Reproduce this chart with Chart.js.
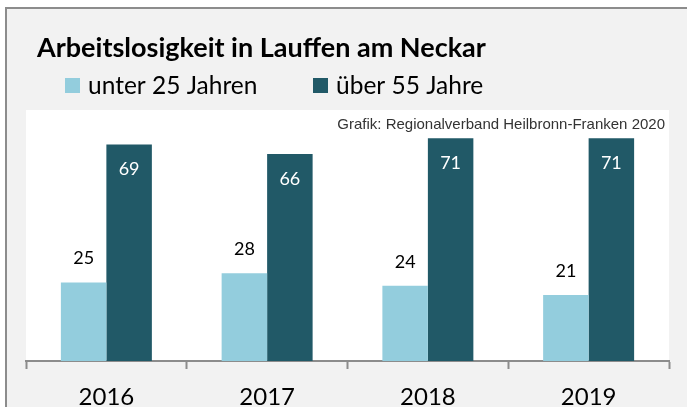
<!DOCTYPE html>
<html>
<head>
<meta charset="utf-8">
<script src="https://cdn.jsdelivr.net/npm/chart.js@4"></script>
<style>
  html, body { margin: 0; padding: 0; background: #fff; }
  #wrap { width: 687px; height: 407px; }
</style>
</head>
<body>
<div id="wrap"><canvas id="chart" width="687" height="407"></canvas></div>
<script>
// values
var years = ["2016", "2017", "2018", "2019"];
var unter25 = [25, 28, 24, 21];
var ueber55 = [69, 66, 71, 71];
var seriesNames = ["unter 25 Jahren", "über 55 Jahre"];
var titleText = "Arbeitslosigkeit in Lauffen am Neckar";
var sourceText = "Grafik: Regionalverband Heilbronn-Franken 2020";

var lightBlue = "#93cddd";
var darkTeal = "#215967";

// gray frame, white plot area, title, legend and source line
var framePlugin = {
    id: "frame",
    beforeDraw: function (chart) {
        var c = chart.ctx;
        var a = chart.chartArea;
        c.save();
        c.fillStyle = "#ffffff";
        c.fillRect(0, 0, chart.width, chart.height);
        c.fillStyle = "#f2f2f2";
        c.fillRect(5, 7, chart.width, chart.height);
        c.strokeStyle = "#8c8c8c";
        c.lineWidth = 2;
        c.beginPath();
        c.moveTo(6, chart.height + 2);
        c.lineTo(6, 8);
        c.lineTo(chart.width + 2, 8);
        c.stroke();
        c.fillStyle = "#ffffff";
        c.fillRect(a.left, 110, a.right - a.left, a.bottom - 110);

        // title
        c.fillStyle = "#000000";
        c.textBaseline = "alphabetic";
        c.textAlign = "left";
        c.font = "bold 27px Lato";
        c.fillText(titleText, 37, 57);

        // legend
        c.font = "24.5px Lato";
        var lx = [65, 313];
        var cols = [lightBlue, darkTeal];
        for (var i = 0; i < 2; i++) {
            c.fillStyle = cols[i];
            c.fillRect(lx[i], 78, 15, 15);
            c.fillStyle = "#000000";
            c.fillText(seriesNames[i], lx[i] + 23, 94);
        }

        // source
        c.font = "15px 'Liberation Sans'";
        c.fillStyle = "#333333";
        c.textAlign = "right";
        c.fillText(sourceText, 665, 129);
        c.restore();
    }
};

// value labels: above the light bars, inside the top of the dark bars
var valueLabels = {
    id: "valueLabels",
    afterDatasetsDraw: function (chart) {
        var c = chart.ctx;
        c.save();
        c.font = "18px Lato";
        c.textAlign = "center";
        c.textBaseline = "middle";
        chart.data.datasets.forEach(function (ds, di) {
            var meta = chart.getDatasetMeta(di);
            meta.data.forEach(function (bar, i) {
                if (di === 0) {
                    c.fillStyle = "#000000";
                    c.fillText(ds.data[i], bar.x, bar.y - 24);
                } else {
                    c.fillStyle = "#ffffff";
                    c.fillText(ds.data[i], bar.x, bar.y + 25);
                }
            });
        });
        c.restore();
    }
};

var ctx = document.getElementById("chart");
var chart = new Chart(ctx, {
    type: "bar",
    data: {
        labels: years,
        datasets: [{
            label: seriesNames[0],
            backgroundColor: lightBlue,
            data: unter25
        }, {
            label: seriesNames[1],
            backgroundColor: darkTeal,
            data: ueber55
        }]
    },
    options: {
        responsive: false,
        animation: false,
        layout: { padding: { left: 26, right: 18, top: 110, bottom: -18 } },
        categoryPercentage: 0.566,
        barPercentage: 1.0,
        plugins: {
            legend: { display: false },
            title: { display: false },
            tooltip: { enabled: false }
        },
        scales: {
            x: {
                grid: {
                    drawOnChartArea: false,
                    drawTicks: true,
                    tickLength: 8,
                    tickWidth: 2,
                    color: "#8c8c8c"
                },
                border: { display: true, color: "#8c8c8c", width: 2 },
                ticks: {
                    color: "#000000",
                    padding: 16,
                    font: { family: "Lato", size: 24, lineHeight: 1 }
                }
            },
            y: {
                display: false,
                min: 0,
                max: 80
            }
        }
    },
    plugins: [framePlugin, valueLabels]
});
</script>
</body>
</html>
